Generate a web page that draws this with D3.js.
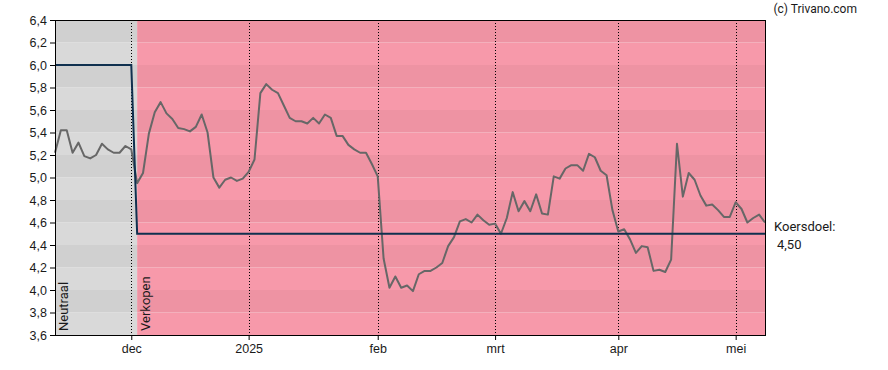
<!DOCTYPE html>
<html>
<head>
<meta charset="utf-8">
<script src="https://cdn.jsdelivr.net/npm/d3@7"></script>
<style>
  body { margin: 0; background: #fff; }
  svg { display: block; font-family: Roboto, "Liberation Sans", sans-serif; }
  .axis text { font-size: 12.5px; fill: #1a1a1a; }
  .axis line { stroke: #000; }
  .axis path { display: none; }
</style>
</head>
<body>
<div id="chart"></div>
<script>
// koers per handelsdag (index 0 = 13 nov 2024)
const koers = [
  5.22, 5.42, 5.42, 5.22, 5.31, 5.19, 5.17, 5.20, 5.30, 5.25,
  5.22, 5.22, 5.28, 5.25, 4.95, 5.04, 5.39, 5.58, 5.67, 5.57,
  5.52, 5.44, 5.43, 5.41, 5.45, 5.56, 5.40, 5.00, 4.91, 4.98,
  5.00, 4.97, 4.99, 5.05, 5.16, 5.75, 5.83, 5.78, 5.75, 5.64,
  5.53, 5.50, 5.50, 5.48, 5.53, 5.48, 5.56, 5.53, 5.37, 5.37,
  5.29, 5.25, 5.22, 5.22, 5.12, 5.01, 4.28, 4.02, 4.12, 4.02,
  4.04, 3.99, 4.14, 4.17, 4.17, 4.20, 4.24, 4.39, 4.47, 4.61,
  4.63, 4.60, 4.67, 4.62, 4.58, 4.59, 4.50, 4.64, 4.87, 4.70,
  4.79, 4.70, 4.85, 4.68, 4.67, 5.01, 4.99, 5.08, 5.11, 5.11,
  5.06, 5.21, 5.18, 5.06, 5.02, 4.71, 4.52, 4.54, 4.45, 4.33,
  4.39, 4.38, 4.17, 4.18, 4.16, 4.27, 5.30, 4.83, 5.04, 4.98,
  4.84, 4.75, 4.76, 4.71, 4.65, 4.65, 4.78, 4.72, 4.60, 4.64,
  4.67, 4.60
];

// koersdoel (trap)
const doelIdx = [0, 13, 14, 121];
const doelVal = [6.0, 6.0, 4.5, 4.5];

// advieszones
const adviesVan = [0, 14];
const adviesTot = [14, 121];
const adviesLabel = ['Neutraal', 'Verkopen'];

// x-as: eerste handelsdag van de maand
const maandIdx = [13, 33, 55, 75, 96, 116];
const maandLabel = ['dec', '2025', 'feb', 'mrt', 'apr', 'mei'];

// y-as
const yTicks = [3.6, 3.8, 4.0, 4.2, 4.4, 4.6, 4.8, 5.0, 5.2, 5.4, 5.6, 5.8, 6.0, 6.2, 6.4];

const W = 888, H = 370;
const margin = {top: 20, right: 123, bottom: 35, left: 55};
const width = W - margin.left - margin.right;
const height = H - margin.top - margin.bottom;

const svg = d3.select('#chart').append('svg')
  .attr('width', W)
  .attr('height', H);

const g = svg.append('g')
  .attr('transform', `translate(${margin.left},${margin.top})`);

const x = d3.scaleLinear().domain([0, koers.length - 1]).range([0, width]);
const y = d3.scaleLinear().domain([3.6, 6.4]).range([height, 0]);

// achtergrond zones met strepen
const zoneColors = [
  {light: '#d9d9d9', dark: '#d0d0d0'},
  {light: '#f799aa', dark: '#ee93a3'}
];
const bands = yTicks.slice(0, -1).map((v, i) => ({lo: v, hi: yTicks[i + 1], dark: i % 2 === 1}));

adviesVan.forEach(function(van, z) {
  g.selectAll('.band-' + z)
    .data(bands)
    .enter()
    .append('rect')
    .attr('x', x(van))
    .attr('width', x(adviesTot[z]) - x(van))
    .attr('y', d => y(d.hi))
    .attr('height', d => y(d.lo) - y(d.hi))
    .attr('fill', d => d.dark ? zoneColors[z].dark : zoneColors[z].light);
});

// verticale stippellijnen
g.selectAll('.vgrid')
  .data(maandIdx)
  .enter()
  .append('line')
  .attr('x1', d => Math.round(x(d)) + 0.5)
  .attr('x2', d => Math.round(x(d)) + 0.5)
  .attr('y1', 0)
  .attr('y2', height)
  .attr('stroke', '#000')
  .attr('stroke-width', 1)
  .attr('stroke-dasharray', '1,2');

// advies labels
g.selectAll('.advies')
  .data(adviesVan)
  .enter()
  .append('text')
  .attr('transform', d => `translate(${x(d) + 12.5},${height - 4}) rotate(-90)`)
  .attr('font-size', '13px')
  .attr('fill', '#1a1a1a')
  .text((d, i) => adviesLabel[i]);

// koerslijn
const line = d3.line()
  .x((d, i) => x(i))
  .y(d => y(d));

g.append('path')
  .datum(koers)
  .attr('fill', 'none')
  .attr('stroke', '#676767')
  .attr('stroke-width', 2)
  .attr('stroke-linejoin', 'round')
  .attr('d', line);

// koersdoel lijn
const doelLine = d3.line()
  .x(d => x(d[0]))
  .y(d => y(d[1]));

g.append('path')
  .datum(doelIdx.map((d, i) => [d, doelVal[i]]))
  .attr('fill', 'none')
  .attr('stroke', '#10304f')
  .attr('stroke-width', 2)
  .attr('d', doelLine);

// kader
g.append('rect')
  .attr('x', 0.5)
  .attr('y', 0.5)
  .attr('width', width)
  .attr('height', height)
  .attr('fill', 'none')
  .attr('stroke', '#000')
  .attr('stroke-width', 1);

// assen
g.append('g')
  .attr('class', 'axis')
  .call(d3.axisLeft(y)
    .tickValues(yTicks)
    .tickSize(5)
    .tickPadding(3)
    .tickFormat(d => d.toFixed(1).replace('.', ',')));

g.append('g')
  .attr('class', 'axis')
  .attr('transform', `translate(0,${height})`)
  .call(d3.axisBottom(x)
    .tickValues(maandIdx)
    .tickSize(5)
    .tickPadding(4)
    .tickFormat((d, i) => maandLabel[i]));

// koersdoel label
const last = doelVal[doelVal.length - 1];
g.append('text')
  .attr('x', width + 9)
  .attr('y', y(last) - 3)
  .attr('font-size', '13px')
  .attr('fill', '#1a1a1a')
  .text('Koersdoel:');

g.append('text')
  .attr('x', width + 12)
  .attr('y', y(last) + 15)
  .attr('font-size', '13px')
  .attr('fill', '#1a1a1a')
  .text(last.toFixed(2).replace('.', ','));

// copyright
svg.append('text')
  .attr('x', 857)
  .attr('y', 13)
  .attr('text-anchor', 'end')
  .attr('font-size', '12px')
  .attr('fill', '#1a1a1a')
  .text('(c) Trivano.com');
</script>
</body>
</html>
